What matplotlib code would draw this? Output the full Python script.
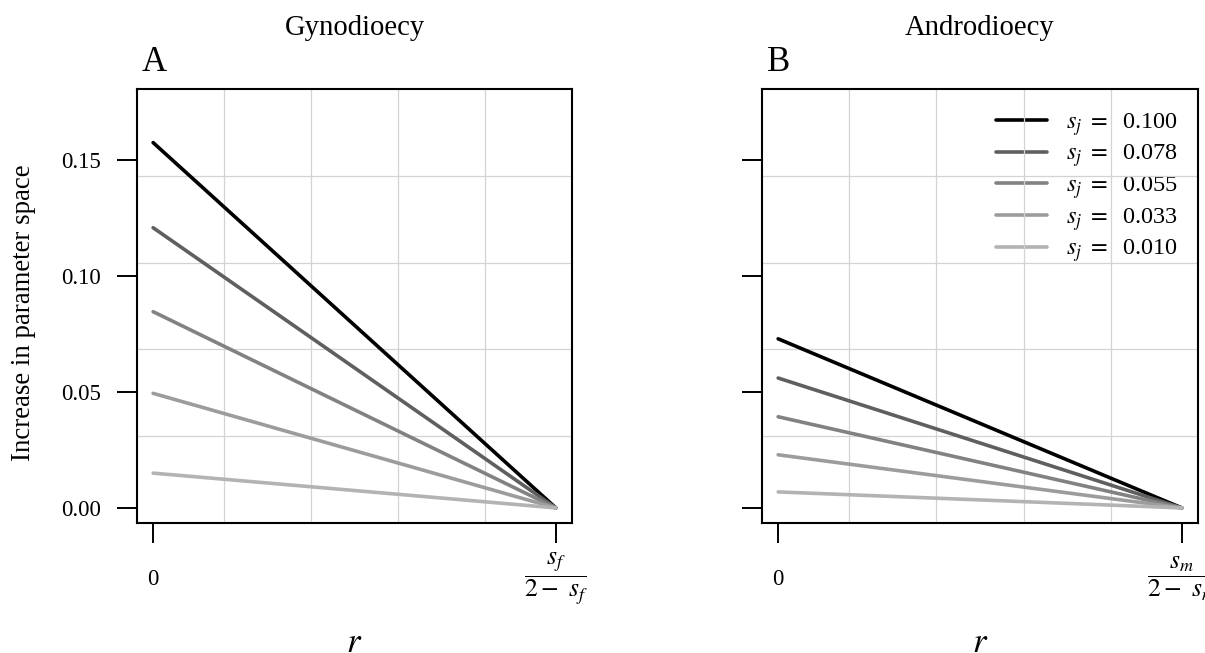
import numpy as np
import matplotlib
matplotlib.use("Agg")
import matplotlib.pyplot as plt

plt.rcParams['font.family'] = ['Liberation Serif', 'DejaVu Serif']
plt.rcParams['mathtext.fontset'] = 'stix'

# ---- data ----
sj_values = [0.100, 0.078, 0.055, 0.033, 0.010]
sj_labels = ["0.100", "0.078", "0.055", "0.033", "0.010"]
r_positions = [0.0, 1.0]
gyno_start = [0.1575, 0.1208, 0.0846, 0.0494, 0.0150]
andro_start = [0.0729, 0.0560, 0.0393, 0.0229, 0.0069]
end_value = 0.0
line_colors = ["#000000", "#5F5F5F", "#828282", "#9C9C9C", "#B3B3B3"]
y_ticks = [0.00, 0.05, 0.10, 0.15]
y_ticklabels = ["0.00", "0.05", "0.10", "0.15"]
xlabelsA = ["0", r"$\dfrac{s_f}{2-\ s_f}$"]
xlabelsB = ["0", r"$\dfrac{s_m}{2-\ s_m}$"]

W, H = 1205, 653
fig = plt.figure(figsize=(W / 100, H / 100), dpi=100)
axA = fig.add_axes([137 / W, 130 / H, 435 / W, 434 / H])
axB = fig.add_axes([762 / W, 130 / H, 436 / W, 434 / H])

xlim = (-0.04, 1.04)
ylim = (-0.0065, 0.1806)

def style(ax, starts, title, letter, xlabels, show_ylabels):
    ax.set_xlim(*xlim)
    ax.set_ylim(*ylim)
    # 5x5 grid
    for gx in np.linspace(xlim[0], xlim[1], 6)[1:-1]:
        ax.axvline(gx, color="#D3D3D3", lw=0.9, zorder=1)
    for gy in np.linspace(ylim[0], ylim[1], 6)[1:-1]:
        ax.axhline(gy, color="#D3D3D3", lw=0.9, zorder=1)
    for s, y0, c, lab in zip(sj_values, starts, line_colors, sj_labels):
        ax.plot(r_positions, [y0, end_value], color=c, lw=2.6,
                solid_capstyle='round', zorder=2,
                label=r"$s_j\ =\ \ $" + lab)
    for sp in ax.spines.values():
        sp.set_linewidth(1.5)
        sp.set_zorder(3)
    ax.set_xticks(r_positions)
    ax.set_xticklabels(xlabels, fontsize=16.5)
    xt = ax.get_xticklabels()
    xt[1].set_fontsize(18.5)
    ax.set_yticks(y_ticks)
    if show_ylabels:
        ax.set_yticklabels(y_ticklabels, fontsize=16.5)
    else:
        ax.set_yticklabels([])
    ax.tick_params(axis='both', direction='out', length=14.4, width=1.4)
    ax.tick_params(axis='y', pad=11.5)
    ax.tick_params(axis='x', pad=26)
    for t in ax.get_xticklabels():
        t.set_va('center')
    ax.set_title(title, fontsize=20.6, pad=39)
    ax.text(0.0115, 1.0415, letter, transform=ax.transAxes, ha='left',
            va='baseline', fontsize=25)
    ax.set_xlabel("$r$", fontsize=25)
    ax.xaxis.label.set_va('baseline')
    ax.xaxis.set_label_coords(0.5, -0.297)

style(axA, gyno_start, "Gynodioecy", "A", xlabelsA, True)
style(axB, andro_start, "Androdioecy", "B", xlabelsB, False)

axA.set_ylabel("Increase in parameter space", fontsize=19.3)
axA.yaxis.label.set_va('center')
axA.yaxis.label.set_ha('center')
axA.yaxis.set_label_coords(-0.262, 0.485)

leg = axB.legend(loc='upper right', bbox_to_anchor=(0.977, 0.972), frameon=False,
                 fontsize=17.5, handlelength=2.1, handletextpad=0.8,
                 labelspacing=0.2, borderaxespad=0.0)
leg.set_zorder(0.5)

fig.savefig("out.png", dpi=100)
